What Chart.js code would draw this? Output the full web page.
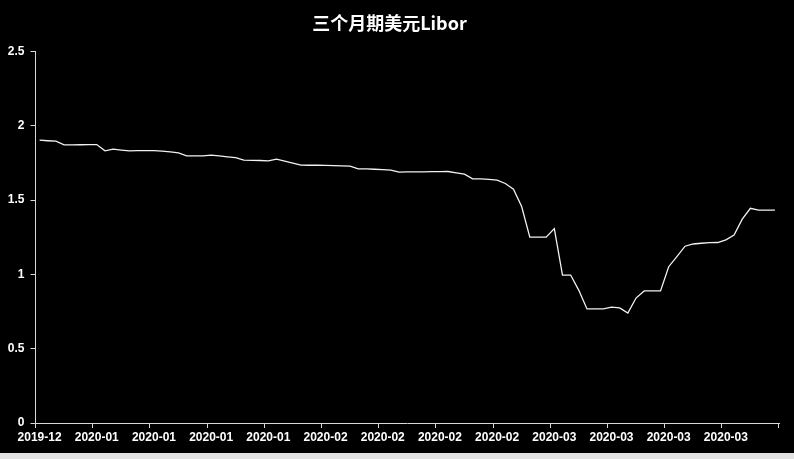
<!DOCTYPE html>
<html>
<head>
<meta charset="utf-8">
<script src="https://cdn.jsdelivr.net/npm/chart.js@4/dist/chart.umd.min.js"></script>
<style>
  html, body { margin: 0; padding: 0; background: #e3e3e3; }
  #wrap { width: 794px; height: 453px; background: #000; }
  canvas { display: block; background: #000; }
</style>
</head>
<body>
<div id="wrap"><canvas id="myChart" width="794" height="453"></canvas></div>
<script>
var title = '三个月期美元Libor';

// one label every 7 days
var tickLabels = ['2019-12', '2020-01', '2020-01', '2020-01', '2020-01',
                  '2020-02', '2020-02', '2020-02', '2020-02',
                  '2020-03', '2020-03', '2020-03', '2020-03'];

// daily values
var libor = [
  1.904, 1.900, 1.897, 1.872, 1.872, 1.873, 1.874, 1.874, 1.832, 1.843,
  1.837, 1.832, 1.833, 1.833, 1.834, 1.830, 1.825, 1.818, 1.798, 1.798,
  1.798, 1.803, 1.798, 1.792, 1.787, 1.769, 1.768, 1.767, 1.765, 1.776,
  1.763, 1.750, 1.736, 1.735, 1.735, 1.734, 1.733, 1.731, 1.729, 1.711,
  1.710, 1.708, 1.706, 1.702, 1.689, 1.690, 1.690, 1.691, 1.692, 1.692,
  1.693, 1.684, 1.675, 1.643, 1.643, 1.640, 1.635, 1.612, 1.574, 1.457,
  1.251, 1.251, 1.251, 1.309, 0.996, 0.996, 0.893, 0.768, 0.768, 0.768,
  0.780, 0.775, 0.740, 0.841, 0.889, 0.889, 0.889, 1.052, 1.120, 1.190,
  1.205, 1.210, 1.214, 1.215, 1.233, 1.265, 1.372, 1.445, 1.433, 1.433,
  1.433
];

var yTicks = [0, 0.5, 1, 1.5, 2, 2.5];

var labels = [];
for (var i = 0; i < libor.length; i++) {
  labels.push(i % 7 === 0 ? tickLabels[i / 7] : '');
}

var axisColor = '#d9d9d9';
var tickFont = { family: '"Liberation Sans Narrow", "Liberation Sans", sans-serif', size: 12, weight: 'bold' };

// tick mark closing the x axis on the right
var endTick = {
  id: 'endTick',
  afterDraw: function (c) {
    var a = c.chartArea, g = c.ctx;
    g.save();
    g.strokeStyle = axisColor;
    g.lineWidth = 1;
    g.beginPath();
    g.moveTo(a.right - 0.5, a.bottom);
    g.lineTo(a.right - 0.5, a.bottom + 5);
    g.stroke();
    g.restore();
  }
};

var ctx = document.getElementById('myChart').getContext('2d');
var chart = new Chart(ctx, {
  type: 'line',
  data: {
    labels: labels,
    datasets: [{
      label: title,
      data: libor,
      borderColor: '#f2f2f2',
      borderWidth: 1.3,
      pointRadius: 0,
      tension: 0,
      fill: false
    }]
  },
  plugins: [endTick],
  options: {
    responsive: false,
    animation: false,
    layout: { padding: { left: 0, right: 15, top: 0, bottom: 0 } },
    plugins: {
      legend: { display: false },
      tooltip: { enabled: false },
      title: {
        display: true,
        text: title,
        color: '#ffffff',
        font: { family: '"Noto Sans CJK SC", "Noto Sans", sans-serif', size: 18, weight: 'bold' },
        padding: { top: 12, bottom: 18 }
      }
    },
    scales: {
      x: {
        type: 'category',
        offset: true,
        grid: {
          offset: true,
          drawOnChartArea: false,
          drawTicks: true,
          tickLength: 5,
          color: function (c) { return c.index % 7 === 0 ? axisColor : 'rgba(0,0,0,0)'; }
        },
        border: { color: axisColor, width: 1 },
        ticks: {
          autoSkip: false,
          maxRotation: 0,
          minRotation: 0,
          padding: 2,
          color: '#ffffff',
          font: tickFont,
          callback: function (v, i) { return labels[i]; }
        },
        afterFit: function (s) { s.height = 30; }
      },
      y: {
        min: 0,
        max: 2.5,
        afterBuildTicks: function (s) { s.ticks = yTicks.map(function (v) { return { value: v }; }); },
        grid: { drawOnChartArea: false, drawTicks: true, tickLength: 5, color: axisColor },
        border: { color: axisColor, width: 1 },
        ticks: {
          color: '#ffffff',
          padding: 6,
          font: tickFont,
          callback: function (v) { return String(v); }
        },
        afterFit: function (s) { s.width = 35.5; }
      }
    }
  }
});
</script>
</body>
</html>
